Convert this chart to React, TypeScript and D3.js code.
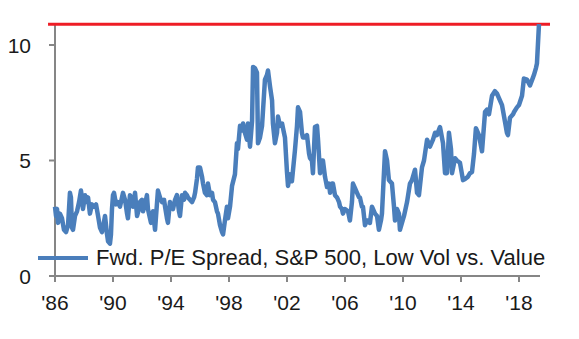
import React from "react";
import * as d3 from "d3";

const years = [
  1986.0, 1986.07, 1986.14, 1986.21, 1986.34, 1986.48, 1986.62, 1986.76, 1986.9,
  1987.03, 1987.1, 1987.17, 1987.24, 1987.38, 1987.52, 1987.66, 1987.79, 1987.86, 1987.93,
  1988.07, 1988.14, 1988.28, 1988.41, 1988.55, 1988.69, 1988.83, 1988.97,
  1989.1, 1989.24, 1989.31, 1989.45, 1989.59, 1989.66, 1989.79, 1989.86, 1989.93,
  1990.0, 1990.07, 1990.21, 1990.34, 1990.48, 1990.62, 1990.69, 1990.83, 1990.97,
  1991.03, 1991.17, 1991.31, 1991.38, 1991.52, 1991.66, 1991.79, 1991.86,
  1992.0, 1992.07, 1992.21, 1992.34, 1992.41, 1992.55, 1992.62, 1992.76, 1992.9, 1992.97,
  1993.1, 1993.24, 1993.38, 1993.52, 1993.59, 1993.72, 1993.79, 1993.93,
  1994.0, 1994.14, 1994.28, 1994.41, 1994.55, 1994.62, 1994.76, 1994.9, 1994.97,
  1995.1, 1995.17, 1995.31, 1995.45, 1995.59, 1995.66, 1995.79, 1995.86,
  1996.0, 1996.14, 1996.21, 1996.34, 1996.48, 1996.55, 1996.69, 1996.83, 1996.9,
  1997.03, 1997.17, 1997.24, 1997.38, 1997.52, 1997.59, 1997.72, 1997.86, 1997.93,
  1998.07, 1998.21, 1998.41, 1998.55, 1998.62, 1998.76, 1998.9, 1998.97,
  1999.1, 1999.24, 1999.31, 1999.45, 1999.59, 1999.66, 1999.79, 1999.93,
  2000.0, 2000.14, 2000.28, 2000.41, 2000.48, 2000.62, 2000.69, 2000.83, 2000.97,
  2001.03, 2001.17, 2001.31, 2001.38, 2001.52, 2001.66, 2001.79, 2001.86,
  2002.0, 2002.07, 2002.21, 2002.34, 2002.48, 2002.55, 2002.69, 2002.76, 2002.9,
  2003.03, 2003.1, 2003.24, 2003.38, 2003.52, 2003.59, 2003.72, 2003.79, 2003.93,
  2004.07, 2004.14, 2004.28, 2004.41, 2004.48, 2004.62, 2004.76, 2004.9, 2004.97,
  2005.1, 2005.17, 2005.31, 2005.45, 2005.59, 2005.66, 2005.79, 2005.86,
  2006.0, 2006.21, 2006.34, 2006.48, 2006.55, 2006.69, 2006.83, 2006.97,
  2007.03, 2007.17, 2007.24, 2007.38, 2007.52, 2007.66, 2007.72, 2007.86,
  2008.07, 2008.21, 2008.34, 2008.48, 2008.55, 2008.69, 2008.76, 2008.9,
  2009.03, 2009.1, 2009.24, 2009.38, 2009.45, 2009.59, 2009.72, 2009.79, 2009.93,
  2010.07, 2010.28, 2010.48, 2010.62, 2010.76, 2010.83, 2010.97,
  2011.1, 2011.31, 2011.45, 2011.66, 2011.86,
  2012.07, 2012.21, 2012.34, 2012.55, 2012.76, 2012.9,
  2013.03, 2013.17, 2013.31, 2013.38, 2013.59, 2013.72, 2013.93,
  2014.14, 2014.28, 2014.48, 2014.62, 2014.76, 2014.9,
  2015.03, 2015.24, 2015.45, 2015.66, 2015.79, 2015.93,
  2016.14, 2016.34, 2016.48, 2016.62, 2016.83,
  2017.03, 2017.17, 2017.24, 2017.38, 2017.59, 2017.66, 2017.86,
  2018.0, 2018.21, 2018.34, 2018.55, 2018.76, 2018.97,
  2019.03, 2019.17, 2019.24, 2019.38,
];

const spread = [
  3.0, 2.6, 2.9, 2.3, 2.7, 2.5, 2.0, 1.9, 2.2,
  3.6, 3.4, 2.1, 2.0, 2.6, 2.8, 3.2, 3.7, 3.4, 2.9,
  3.5, 3.2, 3.4, 2.7, 3.1, 3.0, 3.1, 2.6,
  2.1, 1.9, 2.1, 2.6, 1.8, 1.5, 1.4, 1.8, 2.9,
  3.5, 3.6, 3.1, 3.2, 3.0, 3.4, 3.6, 3.3, 2.7,
  2.5, 3.5, 3.3, 3.0, 3.6, 2.6, 2.9, 3.2,
  3.3, 2.8, 3.1, 3.5, 2.9, 2.5, 2.3, 2.8, 2.0, 2.6,
  3.7, 3.4, 3.2, 3.3, 3.0, 2.5, 2.3, 3.2,
  3.0, 2.9, 3.3, 3.5, 2.8, 2.6, 3.5, 3.3, 3.6,
  3.5, 3.4, 3.3, 3.2, 3.4, 3.6, 4.2, 4.7,
  4.7, 4.3, 4.0, 3.6, 3.5, 4.0, 3.5, 3.6, 3.3,
  3.2, 2.8, 2.7, 2.2, 1.9, 1.8, 2.4, 3.0, 2.5,
  3.0, 3.9, 4.4, 5.75, 5.5, 6.5, 6.3, 6.6,
  6.2, 5.9, 6.6, 5.6, 6.7, 9.05, 9.0, 8.8,
  5.75, 6.0, 6.5, 7.8, 8.5, 8.7, 8.9, 8.2, 7.6,
  6.6, 5.75, 6.2, 6.9, 6.5, 6.6, 6.2, 6.0,
  4.5, 3.9, 4.4, 4.1, 5.0, 5.45, 6.5, 7.3, 7.1,
  6.2, 6.0, 6.0, 6.1, 5.3, 5.1, 5.0, 4.45, 6.45,
  6.5, 5.9, 4.45, 5.0, 5.0, 4.3, 3.85, 4.0, 3.6,
  4.0, 4.0, 3.5, 3.4, 3.2, 3.0, 2.9, 2.7,
  2.9, 2.8, 2.4, 3.2, 4.0, 3.8, 3.6, 3.4,
  3.4, 3.0, 3.0, 2.2, 2.4, 2.4, 2.3, 3.0,
  2.7, 2.6, 2.0, 2.4, 2.7, 4.5, 5.4, 5.0,
  4.15, 4.1, 4.0, 3.0, 2.4, 2.9, 2.7, 2.0, 2.3,
  2.6, 3.2, 4.0, 4.15, 4.45, 4.6, 3.6,
  3.5, 4.7, 5.0, 5.9, 5.6,
  5.9, 6.2, 6.1, 6.45, 5.75, 4.45,
  4.45, 6.2, 5.5, 4.45, 5.1, 5.0, 4.9,
  4.15, 4.2, 4.3, 4.45, 4.5, 5.3,
  6.4, 6.1, 5.4, 7.1, 7.2, 7.0,
  7.8, 8.0, 7.9, 7.7, 7.4,
  6.7, 6.2, 6.1, 6.85, 7.0, 7.1, 7.3,
  7.4, 7.8, 8.55, 8.5, 8.25, 8.6,
  8.7, 9.0, 9.2, 10.9,
];

const xTickYears = [1986, 1990, 1994, 1998, 2002, 2006, 2010, 2014, 2018];
const xTickLabels = ["'86", "'90", "'94", "'98", "'02", "'06", "'10", "'14", "'18"];
const yTicks = [0, 5, 10];
const redLevel = 10.9;
const redSpan = [1985.52, 2020.14];
const legendLabel = "Fwd. P/E Spread, S&P 500, Low Vol vs. Value";

const W = 579;
const H = 339;

export default function App() {
  const x = d3.scaleLinear().domain([1986, 2019.45]).range([55, 540]);
  const y = d3.scaleLinear().domain([0, 10]).range([276, 45]);
  const yTop = y(10.95);

  const pts = years.map((yr, i) => [yr, spread[i]] as [number, number]);
  const line = d3
    .line<[number, number]>()
    .x((d) => x(d[0]))
    .y((d) => y(d[1]));

  const font = "'Liberation Sans', Arial, sans-serif";
  const axisColor = "#868686";
  const blue = "#4A7EBB";

  return (
    <svg
      width={W}
      height={H}
      style={{ position: "absolute", left: 0, top: 0, background: "#fff" }}
    >
      {/* y axis */}
      <line x1={x(1986)} x2={x(1986)} y1={y(0)} y2={yTop} stroke={axisColor} strokeWidth={2} />
      {yTicks.map((t) => (
        <g key={t}>
          <line x1={x(1986) - 6} x2={x(1986)} y1={y(t)} y2={y(t)} stroke={axisColor} strokeWidth={2} />
          <text
            x={31}
            y={y(t) + 7.5}
            textAnchor="end"
            fontFamily={font}
            fontSize={21}
            fill="#1a1a1a"
          >
            {t}
          </text>
        </g>
      ))}

      {/* x axis */}
      <line x1={x(1986)} x2={x(2019.45)} y1={y(0)} y2={y(0)} stroke={axisColor} strokeWidth={2} />
      {xTickYears.map((t, i) => (
        <g key={t}>
          <line x1={x(t)} x2={x(t)} y1={y(0)} y2={y(0) + 6} stroke={axisColor} strokeWidth={2} />
          <text
            x={x(t)}
            y={310}
            textAnchor="middle"
            fontFamily={font}
            fontSize={21}
            fill="#1a1a1a"
          >
            {xTickLabels[i]}
          </text>
        </g>
      ))}

      {/* red level line */}
      <line
        x1={x(redSpan[0])}
        x2={x(redSpan[1])}
        y1={y(redLevel)}
        y2={y(redLevel)}
        stroke="#EE1C25"
        strokeWidth={3}
      />

      {/* series */}
      <path d={line(pts) || ""} fill="none" stroke={blue} strokeWidth={4.5} strokeLinejoin="round" />

      {/* legend */}
      <line x1={38} x2={88} y1={258} y2={258} stroke={blue} strokeWidth={4} />
      <text x={96} y={265} fontFamily={font} fontSize={22} fill="#1a1a1a">
        {legendLabel}
      </text>
    </svg>
  );
}
